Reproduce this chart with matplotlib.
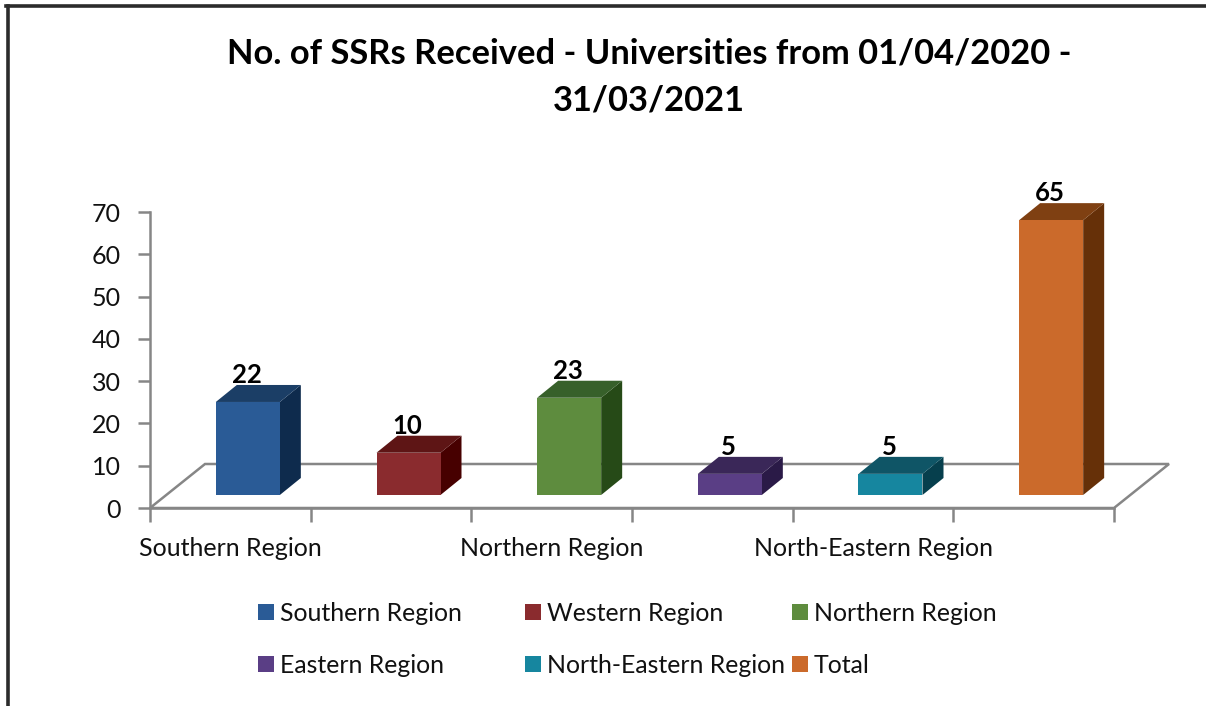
import matplotlib
matplotlib.use("Agg")
import matplotlib.pyplot as plt
from matplotlib.patches import Polygon, Rectangle

categories = ["Southern Region", "Western Region", "Northern Region",
              "Eastern Region", "North-Eastern Region", "Total"]
values = [22, 10, 23, 5, 5, 65]
front_colors = ["#2A5B96", "#8A2B2E", "#5E8C3E", "#5A3E85", "#16869F", "#CB6A2B"]
top_colors = ["#1B3E66", "#5E1515", "#37602A", "#3A2758", "#0F5566", "#7F4012"]
side_colors = ["#0E2B4D", "#470000", "#264A17", "#2A1A47", "#063F4D", "#663008"]
yticks = [0, 10, 20, 30, 40, 50, 60, 70]
title = "No. of SSRs Received - Universities from 01/04/2020 -\n31/03/2021"

W, H = 1206, 706
plt.rcParams["font.family"] = ["Lato", "DejaVu Sans"]
fig = plt.figure(figsize=(W / 100, H / 100), dpi=100)

# axes box in pixels, x = categories, y = values
left, right, top, bottom = 150, 1114, 212, 508
ax = fig.add_axes([left / W, 1 - bottom / H, (right - left) / W, (bottom - top) / H])
ax.set_xlim(-0.5, 5.5)
ax.set_ylim(0, 70)
sx = 6 / (right - left)   # data per pixel
sy = 70 / (bottom - top)

axis_col = "#868686"
for s in ["top", "right"]:
    ax.spines[s].set_visible(False)
for s in ["left", "bottom"]:
    ax.spines[s].set_color(axis_col)
    ax.spines[s].set_linewidth(1.8)

# floor of the 3d box
fx, fy = 55 * sx, 44 * sy
ax.add_patch(Polygon([(-0.5, 0), (-0.5 + fx, fy), (5.5 + fx, fy), (5.5, 0)], closed=True,
                     fc="white", ec=axis_col, lw=1.8, clip_on=False, zorder=1))

ax.set_yticks(yticks)
ax.tick_params(axis="y", length=9, width=1.8, color=axis_col, labelsize=18, pad=12, labelcolor="#111111")
ax.set_xticks([i - 0.5 for i in range(7)])
ax.set_xticklabels([])
ax.tick_params(axis="x", which="major", length=10, width=1.8, color=axis_col)
ax.set_xticks(range(6), minor=True)
ax.set_xticklabels([c if i % 2 == 0 else "" for i, c in enumerate(categories)], minor=True)
ax.tick_params(axis="x", which="minor", length=0, labelsize=18, pad=21, labelcolor="#111111")

# bars, front face goes through ax.bar, the rest is the fake depth
bar_w = 64 * sx
shift = 17.5 * sx
base = 13 * sy
dx, dy = 21 * sx, 17 * sy
for i, v in enumerate(values):
    x0 = i + shift - bar_w / 2
    x1 = x0 + bar_w
    y1 = base + v
    ax.add_patch(Polygon([(x1, base), (x1 + dx, base + dy), (x1 + dx, y1 + dy), (x1, y1)],
                         closed=True, fc=side_colors[i], ec="none", clip_on=False, zorder=2))
    ax.add_patch(Polygon([(x0, y1), (x0 + dx, y1 + dy), (x1 + dx, y1 + dy), (x1, y1)],
                         closed=True, fc=top_colors[i], ec="none", clip_on=False, zorder=2))
    ax.bar(i + shift, v, bar_w, bottom=base, color=front_colors[i], clip_on=False, zorder=3)
    ax.text(i + shift - 1 * sx, y1 + dy - 2 * sy, str(v), ha="center", va="bottom", fontsize=18.5,
            fontweight="bold", color="black", clip_on=False, zorder=4)

fig.text(649 / W, 1 - 77 / H, title, ha="center", va="center", fontsize=24.8,
         fontweight="bold", color="black", linespacing=1.55)

# legend, columns are not even in the original so each entry is placed by hand
legend_x = [258, 525, 792, 258, 525, 792]
legend_y = [612, 612, 612, 664, 664, 664]
legend_order = [0, 1, 2, 3, 4, 5]
for lx, ly, k in zip(legend_x, legend_y, legend_order):
    fig.add_artist(Rectangle((lx / W, 1 - (ly + 8) / H), 16 / W, 16 / H,
                             transform=fig.transFigure, fc=front_colors[k], ec="none"))
    fig.text((lx + 22) / W, 1 - (ly + 1.5) / H, categories[k], ha="left", va="center",
             fontsize=17.9, color="#111111")

# frame of the screenshot
frame = "#2B2B2B"
fig.add_artist(plt.Line2D([7.5 / W, 7.5 / W], [0, 1 - 5.5 / H], color=frame, lw=2.6))
fig.add_artist(plt.Line2D([6 / W, 1], [1 - 5.5 / H, 1 - 5.5 / H], color=frame, lw=2.6))

fig.savefig("out.png", dpi=100)
